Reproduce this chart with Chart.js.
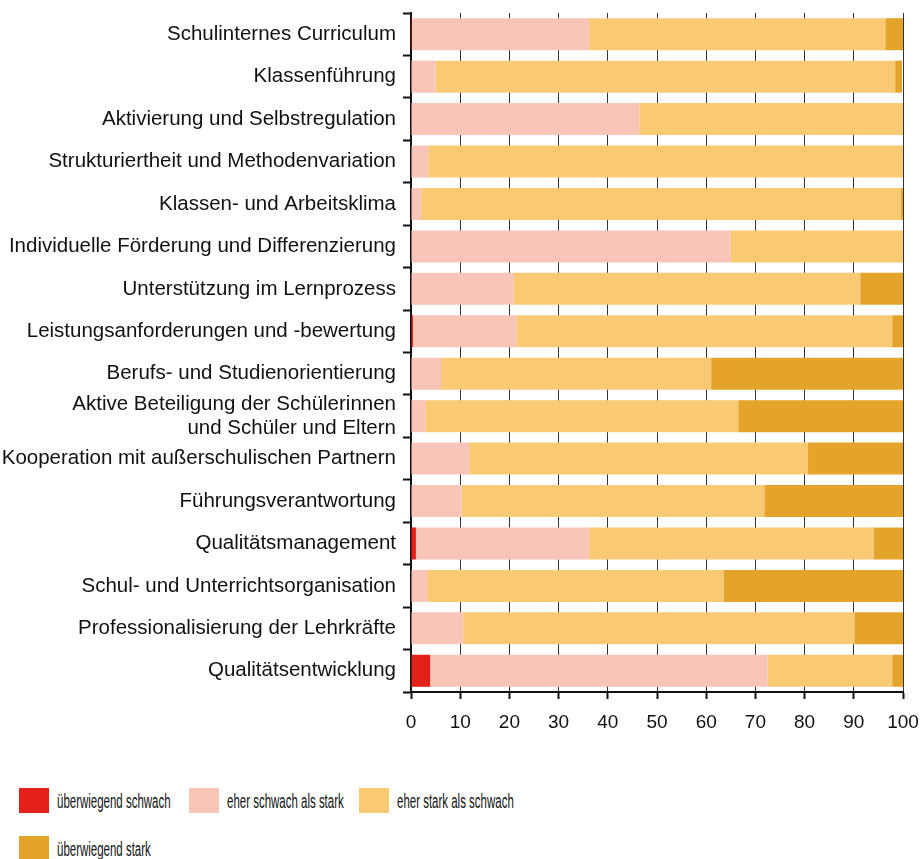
<!DOCTYPE html>
<html>
<head>
<meta charset="utf-8">
<script src="https://cdn.jsdelivr.net/npm/chart.js@4/dist/chart.umd.min.js"></script>
<style>
  body { margin: 0; background: #fff; }
  #wrap { position: relative; width: 921px; height: 859px; overflow: hidden; }
  #chartBox { position: absolute; left: 0; top: 0; width: 921px; height: 745px; }
  #legend { position: absolute; left: 19px; top: 788px; width: 900px; display: grid; grid-template-columns: 170px 170px 170px; row-gap: 23px; }
  .item { display: flex; align-items: center; height: 25px; }
  .box { width: 30px; height: 25px; flex: none; margin-right: 8px; }
  .lbl { font-family: "Liberation Sans", Arial, sans-serif; font-size: 20.5px; color: #111; white-space: nowrap;
         display: inline-block; transform: scaleX(0.56); transform-origin: 0 50%; }
</style>
</head>
<body>
<div id="wrap">
  <div id="chartBox"><canvas id="chart"></canvas></div>
  <div id="legend"></div>
</div>
<script>
const categories = [
  'Schulinternes Curriculum',
  'Klassenführung',
  'Aktivierung und Selbstregulation',
  'Strukturiertheit und Methodenvariation',
  'Klassen- und Arbeitsklima',
  'Individuelle Förderung und Differenzierung',
  'Unterstützung im Lernprozess',
  'Leistungsanforderungen und -bewertung',
  'Berufs- und Studienorientierung',
  ['Aktive Beteiligung der Schülerinnen', 'und Schüler und Eltern'],
  'Kooperation mit außerschulischen Partnern',
  'Führungsverantwortung',
  'Qualitätsmanagement',
  'Schul- und Unterrichtsorganisation',
  'Professionalisierung der Lehrkräfte',
  'Qualitätsentwicklung'
];

const seriesNames = ['überwiegend schwach', 'eher schwach als stark', 'eher stark als schwach', 'überwiegend stark'];
const seriesColors = ['#e3211a', '#f8c5b8', '#fac974', '#e4a42c'];

const ueberwiegendSchwach = [0.2, 0, 0, 0, 0, 0, 0, 0.4, 0, 0.1, 0, 0.1, 1.0, 0, 0, 3.9];
const eherSchwach = [36.0, 5.0, 46.4, 3.5, 2.0, 64.9, 20.9, 21.0, 6.1, 2.8, 11.8, 10.2, 35.2, 3.3, 10.6, 68.6];
const eherStark = [60.2, 93.4, 53.6, 96.5, 97.6, 35.1, 70.4, 76.4, 54.9, 63.6, 68.9, 61.5, 57.8, 60.2, 79.5, 25.3];
const ueberwiegendStark = [3.6, 1.4, 0, 0, 0.4, 0, 8.7, 2.2, 39.0, 33.5, 19.3, 28.2, 6.0, 36.5, 9.9, 2.2];

const xTicks = [0, 10, 20, 30, 40, 50, 60, 70, 80, 90, 100];

const seriesValues = [ueberwiegendSchwach, eherSchwach, eherStark, ueberwiegendStark];

const family = '"Liberation Sans", Arial, sans-serif';

new Chart(document.getElementById('chart'), {
  type: 'bar',
  data: {
    labels: categories,
    datasets: seriesNames.map((name, i) => ({
      label: name,
      data: seriesValues[i],
      backgroundColor: seriesColors[i],
      borderWidth: 0,
      barPercentage: 0.755,
      categoryPercentage: 1.0
    }))
  },
  options: {
    indexAxis: 'y',
    responsive: true,
    maintainAspectRatio: false,
    animation: false,
    layout: { padding: { top: 13, right: 18, bottom: 0, left: 0 } },
    plugins: {
      legend: { display: false },
      tooltip: { enabled: false }
    },
    scales: {
      x: {
        stacked: true,
        min: 0,
        max: 100,
        afterBuildTicks: (scale) => { scale.ticks = xTicks.map(v => ({ value: v })); },
        afterFit: (scale) => { scale.height = 53; scale.paddingRight = 0; scale.paddingLeft = 0; },
        grid: { color: '#333', lineWidth: 1, tickLength: 7, tickColor: '#111', tickWidth: 2 },
        border: { color: '#111', width: 2 },
        ticks: { color: '#111', font: { family: family, size: 19 }, padding: 12, maxRotation: 0, autoSkip: false }
      },
      y: {
        stacked: true,
        afterFit: (scale) => { scale.width = 411; scale.paddingTop = 0; scale.paddingBottom = 0; },
        grid: { drawOnChartArea: false, tickLength: 8, tickColor: '#111', tickWidth: 2, offset: true },
        border: { color: '#111', width: 2 },
        ticks: { color: '#111', font: { family: family, size: 20.5, lineHeight: 1.15 }, padding: 7, autoSkip: false }
      }
    }
  }
});

const legend = document.getElementById('legend');
seriesNames.forEach((name, i) => {
  const item = document.createElement('div');
  item.className = 'item';
  item.innerHTML = '<span class="box" style="background:' + seriesColors[i] + '"></span><span class="lbl">' + name + '</span>';
  legend.appendChild(item);
});
</script>
</body>
</html>
